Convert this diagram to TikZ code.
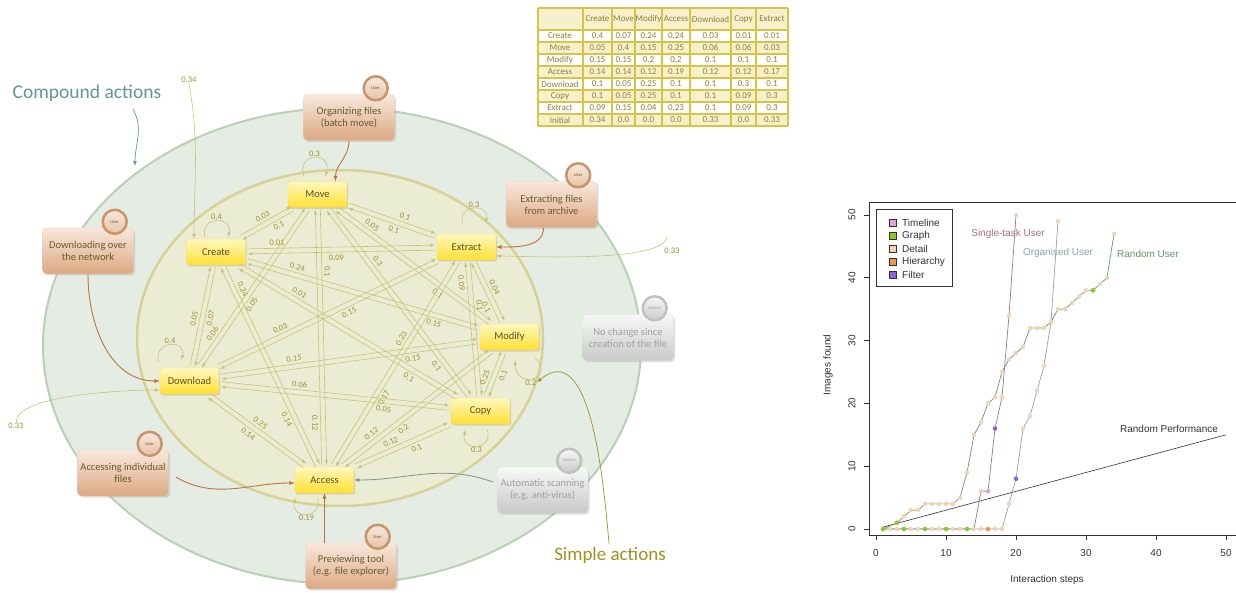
\documentclass[tikz,border=0pt]{standalone}
\usepackage{fontspec}
\setmainfont{Carlito}
\newfontfamily\plotfont{Liberation Sans}
\usetikzlibrary{calc,shadows}

\definecolor{outerfill}{RGB}{229,236,227}
\definecolor{outerline}{RGB}{185,208,180}
\definecolor{innerfill}{RGB}{234,237,212}
\definecolor{innerline}{RGB}{214,210,150}
\definecolor{trc}{RGB}{203,193,118}
\definecolor{lblc}{RGB}{160,145,45}
\definecolor{nodetop}{RGB}{255,248,190}
\definecolor{nodebot}{RGB}{255,224,50}
\definecolor{nodeline}{RGB}{240,210,120}
\definecolor{nodetxt}{RGB}{90,80,40}
\definecolor{usertop}{RGB}{248,232,220}
\definecolor{userbot}{RGB}{220,168,130}
\definecolor{userline}{RGB}{236,206,184}
\definecolor{usertxt}{RGB}{105,90,45}
\definecolor{ring}{RGB}{200,148,105}
\definecolor{systop}{RGB}{248,248,248}
\definecolor{sysbot}{RGB}{200,200,200}
\definecolor{sysring}{RGB}{192,192,192}
\definecolor{systxt}{RGB}{160,160,160}
\definecolor{brarrow}{RGB}{185,115,65}
\definecolor{grarrow}{RGB}{130,140,150}
\definecolor{compc}{RGB}{100,150,150}
\definecolor{simplec}{RGB}{160,145,30}
\definecolor{tabline}{RGB}{215,195,70}
\definecolor{tabfill}{RGB}{246,240,205}
\definecolor{tabtxt}{RGB}{140,128,50}
\definecolor{ptime}{RGB}{232,160,220}
\definecolor{pgraph}{RGB}{140,200,40}
\definecolor{pdetail}{RGB}{240,212,180}
\definecolor{phier}{RGB}{240,150,70}
\definecolor{pfilt}{RGB}{140,100,220}
\definecolor{singlec}{RGB}{165,115,130}
\definecolor{organc}{RGB}{140,165,165}
\definecolor{randc}{RGB}{100,150,105}
\definecolor{plotgray}{RGB}{50,50,50}

% transition between two states: from, to, label, label position
\newcommand{\tlink}[4]{%
  \edef\linkpos{#4}%
  \draw[trans,->] let \p1=(#1.center), \p2=(#2.center),
      \n1={scalar(atan2(\y2-\y1,\x2-\x1))},
      \n2={(min(30/max(abs(cos(\n1)),0.01),13.5/max(abs(sin(\n1)),0.01))+1.5)*1pt},
      \n3={ifthenelse(cos(\n1)<0,\n1+180,\n1)}
    in ($(\p1)+({\n1+90}:2.5pt)+(\n1:\n2)$) -- ($(\p2)+({\n1+90}:2.5pt)+({\n1+180}:\n2)$)
       node[elbl,rotate=\n3] at ($(\p1)!\linkpos!(\p2)+({\n1+90}:8pt)$) {#3};
}

\begin{document}
\begin{tikzpicture}[x=1pt,y=-1pt,>=latex,
  trans/.style={draw=trc,line width=0.6pt},
  elbl/.style={font=\fontsize{8.5}{9}\selectfont,text=lblc,inner sep=0.5pt},
  state/.style={draw=nodeline,rounded corners=2pt,top color=nodetop,bottom color=nodebot,
    minimum width=59pt,minimum height=26pt,inner sep=0pt,text=nodetxt,
    font=\fontsize{10.5}{12}\selectfont,
    drop shadow={opacity=0.25,shadow xshift=1pt,shadow yshift=-1.5pt}},
  userbox/.style={draw=userline,rounded corners=4pt,top color=usertop,bottom color=userbot,
    minimum width=91pt,minimum height=46pt,inner sep=1pt,align=center,text=usertxt,
    font=\fontsize{10.5}{12}\selectfont,
    drop shadow={opacity=0.25,shadow xshift=1.5pt,shadow yshift=-1.5pt}},
  userbadge/.style={circle,draw=ring,line width=2.5pt,top color=usertop,bottom color=userbot!70,
    minimum size=24pt,inner sep=0pt,text=usertxt,font=\fontsize{4.5}{5}\selectfont},
  sysbox/.style={userbox,draw=sysbot!60,top color=systop,bottom color=sysbot,text=systxt},
  sysbadge/.style={userbadge,draw=sysring,top color=systop,bottom color=sysbot,text=systxt},
  brown link/.style={draw=brarrow,line width=0.9pt,->},
  tabtext/.style={font=\fontsize{9}{10}\selectfont,text=tabtxt,inner sep=0pt},
  plottext/.style={font=\plotfont\fontsize{10}{12}\selectfont,text=plotgray,inner sep=1pt}]

\useasboundingbox (0,0) rectangle (1236,593);
\fill[white] (0,0) rectangle (1236,593);

% regions
\draw[fill=outerfill,draw=outerline,line width=2pt] (342,346) ellipse [x radius=299pt,y radius=238pt];
\draw[fill=innerfill,draw=innerline,line width=2.5pt] (340,338) ellipse [x radius=203pt,y radius=168pt];

% states
\node[state] (Move) at (317.5,194.5) {Move};
\node[state] (Create) at (216,252) {Create};
\node[state] (Extract) at (466.5,247) {Extract};
\node[state] (Modify) at (509.5,337) {Modify};
\node[state] (Copy) at (480.5,411) {Copy};
\node[state] (Download) at (189.5,381) {Download};
\node[state] (Access) at (324.5,480) {Access};

\foreach \sa/\sb/\lab/\where in {Create/Move/0.03/0.50, Move/Create/0.1/0.42,
    Create/Extract/0.01/0.245, Extract/Create/0.09/0.52,
    Create/Modify/0.24/0.27, Modify/Create/0.15/0.25,
    Create/Copy/0.01/0.30, Copy/Create/0.1/0.255,
    Download/Create/0.05/0.47, Create/Download/0.07/0.50,
    Create/Access/0.24/0.18, Access/Create/0.14/0.28,
    Move/Extract/0.1/0.57, Extract/Move/0.1/0.47,
    Move/Modify/0.05/0.26, Modify/Move/0.1/0.35,
    Move/Copy/0.3/0.33, Copy/Move/0.1/0.23,
    Move/Download/0.05/0.565, Download/Move/0.06/0.23,
    Move/Access/0.1/0.27, Access/Move/0.12/0.20,
    Extract/Modify/0.04/0.485, Modify/Extract/0.1/0.37,
    Copy/Extract/0.09/0.785, Extract/Copy/0.1/0.36,
    Extract/Download/0.15/0.436, Download/Extract/0.03/0.34,
    Access/Extract/0.23/0.59, Extract/Access/0.17/0.63,
    Copy/Modify/0.25/0.41, Modify/Copy/0.1/0.48,
    Modify/Download/0.15/0.305, Download/Modify/0.15/0.33,
    Access/Modify/0.12/0.28, Modify/Access/0.2/0.60,
    Download/Copy/0.06/0.376, Copy/Download/0.05/0.33,
    Access/Copy/0.12/0.445, Copy/Access/0.1/0.43,
    Download/Access/0.25/0.49, Access/Download/0.14/0.53}
  {\tlink{\sa}{\sb}{\lab}{\where}}

% self loops
\draw[trans,->] ([xshift=-14pt,yshift=5pt]Move.north) to[out=105,in=75,distance=26pt] node[elbl,above] (lmove) {0.3} ([xshift=8pt,yshift=5pt]Move.north);
\draw[trans,->] ([xshift=-11pt,yshift=2pt]Create.north) to[out=105,in=75,distance=22pt] node[elbl,above] (lcreate) {0.4} ([xshift=12pt,yshift=2pt]Create.north);
\draw[trans,->] ([xshift=-4pt,yshift=11pt]Extract.north) to[out=105,in=75,distance=20pt] node[elbl,above] (lextract) {0.3} ([xshift=19pt,yshift=11pt]Extract.north);
\draw[trans,->] ([xshift=-31pt,yshift=6pt]Download.north) to[out=105,in=75,distance=22pt] node[elbl,above] (ldownload) {0.4} ([xshift=-8pt,yshift=8pt]Download.north);
\draw[trans,->] ([xshift=-7pt,yshift=-5pt]Access.south) to[out=-75,in=-105,distance=22pt] node[elbl,below] (laccess) {0.19} ([xshift=-29pt,yshift=-5pt]Access.south);
\draw[trans,->] ([xshift=7pt,yshift=-6pt]Copy.south) to[out=-75,in=-105,distance=22pt] node[elbl,below] (lcopy) {0.3} ([xshift=-15pt,yshift=-6pt]Copy.south);
\draw[trans,->] ([xshift=-4pt,yshift=-8pt]Modify.south east) to[out=-45,in=-90,distance=30pt] node[elbl,below,pos=0.55] (lmod) {0.2} ([xshift=-24pt,yshift=-10pt]Modify.south east);

% initial probabilities
\node[elbl] (init34) at (189,80) {0.34};
\draw[trans,->] (init34.south) to[out=-80,in=90] ([xshift=-22pt]Create.north);
\node[elbl] (init33a) at (16,426) {0.33};
\draw[trans,->] (init33a.north) to[out=90,in=180,looseness=0.5] ([yshift=-9pt]Download.west);
\node[elbl] (init33b) at (672,251) {0.33};
\coordinate (start33b) at (667,237);
\draw[trans,->] (start33b) to[out=-100,in=0,looseness=0.4] ([yshift=-9pt]Extract.east);

% compound actions
\node[userbox] (orgbox) at (349,117.5) {Organizing files\\(batch move)};
\node[userbadge] (orgbadge) at ([xshift=-19pt,yshift=6pt]orgbox.north east) {User};
\node[userbox] (extbox) at (551.5,204.5) {Extracting files\\from archive};
\node[userbadge] (extbadge) at ([xshift=-19pt,yshift=6pt]extbox.north east) {User};
\node[userbox] (dlbox) at (88,251) {Downloading over\\the network};
\node[userbadge] (dlbadge) at ([xshift=-19pt,yshift=6pt]dlbox.north east) {User};
\node[userbox] (accbox) at (123,473) {Accessing individual\\files};
\node[userbadge] (accbadge) at ([xshift=-19pt,yshift=6pt]accbox.north east) {User};
\node[userbox] (prevbox) at (351,566) {Previewing tool\\(e.g. file explorer)};
\node[userbadge] (prevbadge) at ([xshift=-19pt,yshift=6pt]prevbox.north east) {User};
\node[sysbox] (nochange) at (628,337.5) {No change since\\creation of the file};
\node[sysbadge] (nochangebadge) at ([xshift=-19pt,yshift=6pt]nochange.north east) {System};
\node[sysbox] (scan) at (542.5,490) {Automatic scanning\\(e.g. anti-virus)};
\node[sysbadge] (scanbadge) at ([xshift=-19pt,yshift=6pt]scan.north east) {System};

\draw[brown link] (orgbox.south) to[out=-90,in=90] ([xshift=18pt]Move.north);
\draw[brown link] ([xshift=-8pt]extbox.south) to[out=-90,in=0] (Extract.east);
\draw[brown link] (dlbox.south) to[out=-90,in=180] (Download.west);
\draw[brown link] ([xshift=7pt,yshift=-4pt]accbox.east) to[out=-30,in=180] ([yshift=-3pt]Access.west);
\draw[brown link] (Access.south |- prevbox.north) -- (Access.south);
\draw[draw=grarrow,line width=0.8pt,->] ([xshift=-4pt,yshift=8pt]scan.west) to[out=160,in=0] (Access.east);

% region names
\node[font=\fontsize{19.5}{22}\selectfont,text=compc] (compound) at (87,93) {Compound actions};
\coordinate (outerpt) at (135,166);
\draw[draw=compc,line width=0.7pt,->] ([xshift=-32pt,yshift=-4pt]compound.south east) to[out=-60,in=90] (outerpt);
\node[font=\fontsize{19}{22}\selectfont,text=simplec] (simple) at (610,555) {Simple actions};
\draw[draw=simplec,line width=0.7pt,->] ([xshift=-1pt]simple.north) to[out=95,in=40] (lmod.east);

% transition table
\fill[tabfill] (538,8) rectangle (788,30);
\foreach \i in {2,4,6,8} \fill[tabfill] (538,{18+12*\i}) rectangle (788,{30+12*\i});
\foreach \xx in {538,583,612,635,662,690,731,756,788} \draw[tabline,line width=1.2pt] (\xx,8) -- (\xx,126);
\draw[tabline,line width=1.2pt] (538,8) -- (788,8);
\foreach \i in {0,...,8} \draw[tabline,line width=1.2pt] (538,{30+12*\i}) -- (788,{30+12*\i});
\def\colx{{597.5,623.5,648.5,676,710.5,743.5,772}}
\foreach \h [count=\j] in {Create,Move,Modify,Access,Download,Copy,Extract}
  \node[tabtext] (h\j) at ({\colx[\j-1]},19) {\h};
\foreach \rname/\vals [count=\i] in {Create/{0.4,0.07,0.24,0.24,0.03,0.01,0.01},
    Move/{0.05,0.4,0.15,0.25,0.06,0.06,0.03},
    Modify/{0.15,0.15,0.2,0.2,0.1,0.1,0.1},
    Access/{0.14,0.14,0.12,0.19,0.12,0.12,0.17},
    Download/{0.1,0.05,0.25,0.1,0.1,0.3,0.1},
    Copy/{0.1,0.05,0.25,0.1,0.1,0.09,0.3},
    Extract/{0.09,0.15,0.04,0.23,0.1,0.09,0.3},
    Initial/{0.34,0.0,0.0,0.0,0.33,0.0,0.33}}{
  \node[tabtext] (r\i) at (560,{24+12*\i}) {\rname};
  \foreach \v [count=\j] in \vals
    \node[tabtext] (c\i-\j) at ({\colx[\j-1]},{24+12*\i}) {\v};
}

% plot
\begin{scope}[shift={(876,529)},x=7pt,y=6.28pt]
\draw[plotgray,line width=0.6pt] (-0.96,-0.96) rectangle (51.96,51.96);
\draw[plotgray,line width=0.6pt] (0,-0.96) -- (50,-0.96);
\foreach \t in {0,10,...,50} {
  \draw[plotgray,line width=0.6pt] (\t,-0.96) -- ++(0,-5pt);
  \draw[plotgray,line width=0.6pt] (-0.96,\t) -- ++(-5pt,0);
  \node[plottext] (xt\t) at (\t,-3.82) {\t};
  \node[plottext,rotate=90] (yt\t) at (-3.43,\t) {\t};
}
\draw[plotgray,line width=0.6pt] (1,0.3) -- (50,15);
\draw[singlec,line width=0.7pt] plot coordinates {(1,0) (14,0) (15,6) (16,6) (17,16) (18,21) (19,34) (20,50)};
\draw[organc,line width=0.7pt] plot coordinates {(1,0) (18,0) (19,4) (20,8) (21,16) (22,18) (23,22) (24,26) (25,33) (26,49)};
\draw[randc,line width=0.7pt] plot coordinates {(1,0) (3,1) (4,2) (5,3) (6,3) (7,4) (8,4) (9,4) (10,4) (11,4) (12,5) (13,9) (14,15) (15,17) (16,20) (17,21) (18,25) (19,27) (20,28) (21,29) (22,32) (23,32) (24,32) (25,33) (26,35) (27,35) (28,36) (29,37) (30,38) (31,38) (32,39) (33,40) (34,47)};
\foreach \px/\py in {4/2,5/3,6/3,7/4,8/4,9/4,10/4,11/4,12/5,13/9,14/15,15/17,16/20,17/21,18/25,19/27,20/28,21/29,22/32,23/32,24/32,25/33,26/35,27/35,28/36,29/37,30/38,32/39,33/40,34/47,
    15/6,18/21,19/34,20/50,19/4,21/16,22/18,23/22,24/26,26/49,
    2/0,3/0,5/0,6/0,8/0,9/0,11/0,12/0,14/0,15/0,17/0,18/0}
  \fill[pdetail] (\px,\py) circle[radius=2.3pt];
\foreach \px/\py/\pc in {1/0/pgraph,4/0/pgraph,7/0/pgraph,10/0/pgraph,13/0/pgraph,16/0/phier,
    3/1/pgraph,31/38/pgraph,16/6/ptime,17/16/pfilt,20/8/pfilt}
  \fill[\pc] (\px,\py) circle[radius=2.3pt];
\end{scope}

\draw[plotgray,line width=0.6pt] (876,209) rectangle (952,286);
\foreach \lab/\col [count=\k] in {Timeline/ptime,Graph/pgraph,Detail/pdetail,Hierarchy/phier,Filter/pfilt} {
  \draw[plotgray,fill=\col,line width=0.5pt] ({889.5},{206.5+13*\k}) rectangle ++(7,7);
  \node[plottext,anchor=west] (leg\k) at (901,{210+13*\k}) {\lab};
}
\node[plottext,text=singlec] (lsingle) at (1008,234) {Single-task User};
\node[plottext,text=organc] (lorgan) at (1058,253) {Organised User};
\node[plottext,text=randc] (lrand) at (1148,254) {Random User};
\node[plottext] (lperf) at (1169,429) {Random Performance};
\node[plottext,rotate=90] (ylab) at (828,365) {Images found};
\node[plottext] (xlab) at (1047,580) {Interaction steps};
\end{tikzpicture}
\end{document}
